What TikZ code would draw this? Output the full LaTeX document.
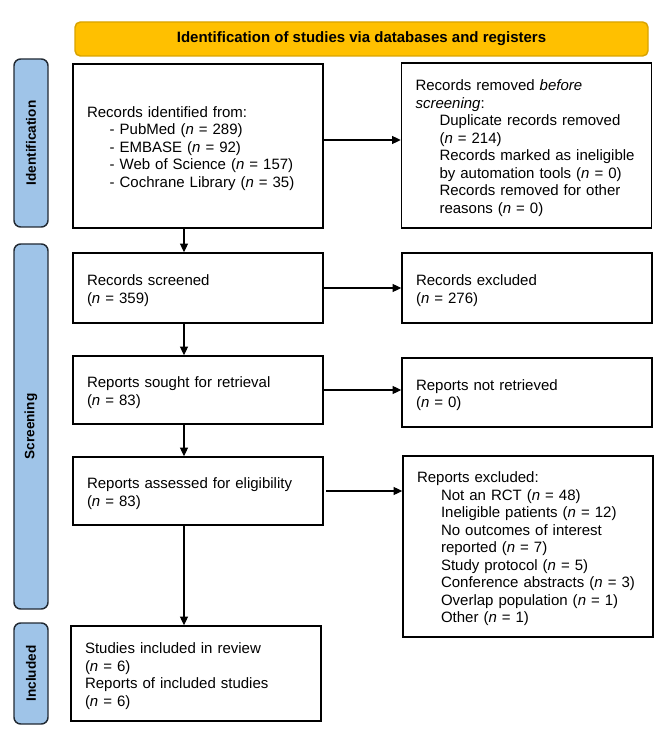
\documentclass[tikz,border=0pt]{standalone}
\usepackage{fontspec}
\setmainfont{Liberation Sans}
\usetikzlibrary{arrows.meta}
\definecolor{bannerfill}{HTML}{FFC000}
\definecolor{bannerdraw}{HTML}{D9A300}
\definecolor{sidefill}{HTML}{9FC4E8}
\definecolor{sidedraw}{HTML}{222A33}
\newcommand{\fs}{\fontsize{11.25}{13.125}\selectfont}
\newcommand{\ind}{\hspace*{18pt}}
\newcommand{\nn}{\textit{n}}
\begin{document}
\begin{tikzpicture}[x=0.75pt,y=-0.75pt,
  box/.style={draw, line width=1.1pt, text width=166.5pt, inner xsep=10.5pt, inner ysep=0pt, align=left, font=\fs, anchor=center, execute at begin node={\rule{0pt}{12pt}}},
  side/.style={draw=sidedraw, fill=sidefill, line width=1.1pt, rounded corners=5pt, rotate=90, minimum height=25.5pt, inner sep=0pt, font=\fontsize{10.2}{12}\selectfont\bfseries, anchor=center},
  arr/.style={line width=0.8pt, -{Triangle[length=6.5pt,width=6pt]}}]
\useasboundingbox (0,0) rectangle (669,741);
% banner
\node[draw=bannerdraw, fill=bannerfill, line width=1.1pt, rounded corners=4pt, minimum width=429.75pt, minimum height=25.5pt, inner sep=0pt, font=\fs\bfseries] (banner) at (361.5,39) {Identification of studies via databases and registers};
% side bars
\node[side, minimum width=126pt] (sid) at (31,143) {Identification};
\node[side, minimum width=273.75pt] (sscr) at (31,426.5) {Screening};
\node[side, minimum width=75.75pt] (sinc) at (31,673.5) {Included};
% boxes
\node[box, minimum height=123pt] (A) at (198,146) {Records identified from:\\
\hspace*{17pt}- PubMed (\nn{} = 289)\\
\hspace*{17pt}- EMBASE (\nn{} = 92)\\
\hspace*{17pt}- Web of Science (\nn{} = 157)\\
\hspace*{17pt}- Cochrane Library (\nn{} = 35)};
\node[box, minimum height=123.75pt] (B) at (526.5,145.5) {Records removed \textit{before}\\
\textit{screening}:\\
\ind Duplicate records removed\\
\ind (\nn{} = 214)\\
\ind Records marked as ineligible\\
\ind by automation tools (\nn{} = 0)\\
\ind Records removed for other\\
\ind reasons (\nn{} = 0)};
\node[box, minimum height=52.5pt] (C) at (198,288) {Records screened\\(\nn{} = 359)};
\node[box, minimum height=52.5pt] (D) at (527,288) {Records excluded\\(\nn{} = 276)};
\node[box, minimum height=51pt] (E) at (198,390) {Reports sought for retrieval\\(\nn{} = 83)};
\node[box, minimum height=51.75pt] (F) at (527,392.5) {Reports not retrieved\\(\nn{} = 0)};
\node[box, minimum height=51pt] (G) at (198,491) {Reports assessed for eligibility\\(\nn{} = 83)};
\node[box, minimum height=135.75pt] (H) at (528,546.5) {Reports excluded:\\
\ind Not an RCT (\nn{} = 48)\\
\ind Ineligible patients (\nn{} = 12)\\
\ind No outcomes of interest\\
\ind reported (\nn{} = 7)\\
\ind Study protocol (\nn{} = 5)\\
\ind Conference abstracts (\nn{} = 3)\\
\ind Overlap population (\nn{} = 1)\\
\ind Other (\nn{} = 1)};
\node[box, minimum height=71.25pt] (I) at (196,673.5) {Studies included in review\\
(\nn{} = 6)\\
Reports of included studies\\
(\nn{} = 6)};
% arrows
\draw[arr] ([xshift=-10.5pt]A.south) -- ([xshift=-10.5pt]A.south |- C.north);
\draw[arr] ([xshift=-10.5pt]C.south) -- ([xshift=-10.5pt]C.south |- E.north);
\draw[arr] ([xshift=-10.5pt]E.south) -- ([xshift=-10.5pt]E.south |- G.north);
\draw[arr] ([xshift=-10.5pt]G.south) -- ([xshift=-10.5pt]G.south |- I.north);
\draw[arr] ([yshift=4.5pt]A.east) -- ([yshift=4.5pt]A.east -| B.west);
\draw[arr] (C.east) -- (C.east -| D.west);
\draw[arr] (E.east) -- (E.east -| F.west);
\draw[arr] ([xshift=2pt]G.east) -- (G.east -| H.west);
\end{tikzpicture}
\end{document}
